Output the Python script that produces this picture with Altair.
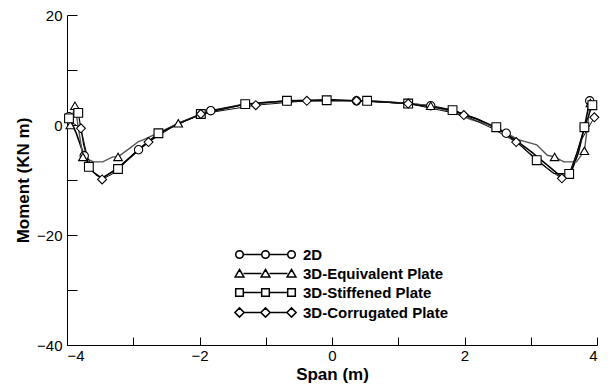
import math
import altair as alt
import pandas as pd

SERIES = ["2D", "3D-Equivalent Plate", "3D-Stiffened Plate", "3D-Corrugated Plate"]

# 2D (circles)
x_2d = [-3.97, -3.86, -3.74, -3.6, -3.47, -3.23, -2.92, -2.6, -2.3, -1.83, -1.31, -0.67, 0.0, 0.37, 0.8,
        1.15, 1.49, 1.82, 2.2, 2.63, 3.0, 3.3, 3.47, 3.6, 3.72, 3.81, 3.89]
y_2d = [1.5, -1.5, -5.6, -8.6, -9.7, -7.8, -4.5, -1.5, 0.4, 2.6, 3.8, 4.4, 4.6, 4.4, 4.2,
        3.9, 3.5, 2.7, 1.0, -1.5, -4.8, -7.8, -9.5, -8.9, -5.0, -0.4, 4.4]
m_2d = [-3.97, -3.74, -2.92, -1.83, -0.67, 0.37, 1.15, 1.49, 2.63, 3.81, 3.89]

# 3D-Equivalent Plate (triangles)
x_eq = [-3.95, -3.88, -3.76, -3.6, -3.46, -3.31, -3.23, -3.05, -2.92, -2.85, -2.6, -2.32, -1.98, -1.31,
        -0.68, 0.0, 0.53, 1.15, 1.49, 1.8, 2.1, 2.48, 2.8, 3.09, 3.25, 3.36, 3.5, 3.69, 3.81, 3.9]
y_eq = [0.0, 3.5, -5.8, -6.7, -6.7, -5.8, -5.8, -4.2, -3.0, -2.7, -1.3, 0.3, 2.0, 3.8,
        4.3, 4.4, 4.4, 3.9, 3.5, 2.4, 1.0, -0.4, -2.6, -3.6, -5.5, -5.8, -6.7, -6.7, -4.7, 4.0]
m_eq = [-3.95, -3.88, -3.76, -3.23, -2.32, -1.98, -1.31, 0.53, 1.15, 1.49, 2.48, 3.36, 3.81, 3.9]

# 3D-Stiffened Plate (squares)
x_st = [-3.97, -3.83, -3.75, -3.67, -3.55, -3.47, -3.23, -2.92, -2.62, -2.3, -1.98, -1.31, -0.68, -0.08,
        0.53, 1.15, 1.82, 2.2, 2.48, 2.8, 3.09, 3.35, 3.58, 3.7, 3.81, 3.93]
y_st = [1.2, 2.2, -3.5, -7.6, -9.2, -9.6, -8.0, -4.4, -1.5, 0.3, 2.0, 3.8, 4.4, 4.5,
        4.4, 3.9, 2.7, 1.1, -0.4, -3.2, -6.4, -8.8, -8.9, -5.0, -0.4, 3.6]
m_st = [-3.97, -3.83, -3.67, -3.23, -2.62, -1.98, -1.31, -0.68, -0.08, 0.53, 1.15, 1.82, 2.48, 3.09,
        3.58, 3.81, 3.93]

# 3D-Corrugated Plate (diamonds)
x_co = [-3.97, -3.79, -3.7, -3.6, -3.47, -3.3, -3.1, -2.77, -2.4, -1.98, -1.15, -0.38, 0.37, 1.15,
        1.99, 2.4, 2.78, 3.1, 3.3, 3.47, 3.6, 3.75, 3.96]
y_co = [0.8, -0.6, -5.5, -8.5, -9.9, -8.8, -6.6, -3.1, -0.3, 2.0, 3.6, 4.4, 4.4, 3.9,
        1.8, -0.5, -3.1, -6.3, -8.4, -9.7, -8.6, -3.0, 1.4]
m_co = [-3.79, -3.47, -2.77, -1.98, -1.15, -0.38, 0.37, 1.15, 1.99, 2.78, 3.47, 3.96]

X_LABELS = [-4, -2, 0, 2, 4]
X_TICKS = [-4, -3, -2, -1, 0, 1, 2, 3, 4]
Y_LABELS = [-40, -20, 0, 20]
Y_TICKS = [-40, -30, -20, -10, 0, 10, 20]

rows = []
for name, xs, ys, ms in [(SERIES[0], x_2d, y_2d, m_2d), (SERIES[1], x_eq, y_eq, m_eq),
                         (SERIES[2], x_st, y_st, m_st), (SERIES[3], x_co, y_co, m_co)]:
    for i, (xv, yv) in enumerate(zip(xs, ys)):
        rows.append({"series": name, "x": xv, "y": yv, "order": i, "marker": xv in ms})
df = pd.DataFrame(rows)


def f(v):
    return f"{v:.3f}"


# legend symbols: line with three markers (custom SVG paths)
def marker_path(kind, cx):
    if kind == "circle":
        pts = [(cx + 0.95 * math.cos(2 * math.pi * k / 16), 0.95 * math.sin(2 * math.pi * k / 16))
               for k in range(16)]
    elif kind == "triangle":
        pts = [(cx, -1.0), (cx + 1.1, 0.85), (cx - 1.1, 0.85)]
    elif kind == "square":
        pts = [(cx - 0.95, -0.95), (cx + 0.95, -0.95), (cx + 0.95, 0.95), (cx - 0.95, 0.95)]
    else:
        pts = [(cx, -1.15), (cx + 1.15, 0), (cx, 1.15), (cx - 1.15, 0)]
    return "M" + "L".join(f"{f(a)},{f(b)}" for a, b in pts) + "Z"


def legend_path(kind):
    centers = [0, 6.5, 13.0]
    p = ""
    for a, b in zip(centers[:-1], centers[1:]):
        p += f"M{f(a + 1.0)},0L{f(b - 1.0)},0"
    for c in centers:
        p += marker_path(kind, c)
    return p


LEG_SHAPES = [legend_path(k) for k in ["circle", "triangle", "square", "diamond"]]

base = alt.Chart(df)
xscale = alt.Scale(domain=[-4, 4], nice=False, zero=False)
yscale = alt.Scale(domain=[-40, 20], nice=False, zero=False)

lines = base.mark_line(interpolate="linear").encode(
    x=alt.X("x:Q", scale=xscale, axis=alt.Axis(orient="bottom", values=X_LABELS, ticks=False,
                                               grid=False, title="Span (m)", format="d",
                                               labelPadding=3, titlePadding=3)),
    y=alt.Y("y:Q", scale=yscale, axis=alt.Axis(orient="left", values=Y_LABELS, ticks=False,
                                               grid=False, title="Moment (KN m)", format="d",
                                               labelPadding=5, titlePadding=4)),
    detail="series:N",
    order="order:Q",
    color=alt.Color("series:N", scale=alt.Scale(domain=SERIES, range=["#000000", "#555555", "#000000", "#111111"]),
                    legend=None),
    strokeWidth=alt.StrokeWidth("series:N", scale=alt.Scale(domain=SERIES, range=[1.6, 1.0, 1.6, 1.6]),
                                legend=None),
)

points = base.transform_filter("datum.marker").mark_point(
    filled=True, fill="white", stroke="black", strokeWidth=1.1, opacity=1
).encode(
    x=alt.X("x:Q", scale=xscale, axis=alt.Axis(orient="top", offset=-330, values=X_TICKS, tickSize=8,
                                               labels=False, domain=False, grid=False, title=None)),
    y=alt.Y("y:Q", scale=yscale, axis=alt.Axis(orient="right", offset=-530, values=Y_TICKS, tickSize=10,
                                               labels=False, domain=False, grid=False, title=None)),
    shape=alt.Shape("series:N", scale=alt.Scale(domain=SERIES,
                                                range=["circle", "triangle-up", "square", "diamond"]),
                    legend=None),
    size=alt.Size("series:N", scale=alt.Scale(domain=SERIES, range=[70, 80, 85, 120]), legend=None),
)

legend_layer = base.transform_calculate(lg="datum.series").transform_filter("datum.x > 100").mark_point(
    filled=False, fill="white", stroke="black", strokeWidth=1, opacity=1
).encode(
    x=alt.X("x:Q", scale=xscale, axis=None),
    y=alt.Y("y:Q", scale=yscale, axis=None),
    shape=alt.Shape("lg:N", scale=alt.Scale(domain=SERIES, range=LEG_SHAPES),
                    legend=alt.Legend(title=None, orient="none", legendX=165, legendY=232,
                                      symbolSize=64, labelFont="Liberation Sans",
                                      labelFontSize=15, labelFontWeight="bold", labelOffset=56,
                                      rowPadding=3, labelColor="black")),
)

chart = alt.layer(lines, points, legend_layer).resolve_scale(
    shape="independent"
).resolve_axis(x="independent", y="independent").properties(
    width=530, height=330,
    autosize=alt.AutoSizeParams(type="none"),
    padding={"left": 59, "top": 7, "right": 6, "bottom": 39},
).configure_view(stroke=None).configure_axis(
    labelFont="Liberation Sans", labelFontSize=15, labelColor="black",
    titleFont="Liberation Sans", titleFontSize=17, titleFontWeight="bold", titleColor="black",
    domainColor="black", tickColor="black", domainWidth=1, tickWidth=1,
)

chart.save("out.html", embed_options={"renderer": "svg", "actions": False})
